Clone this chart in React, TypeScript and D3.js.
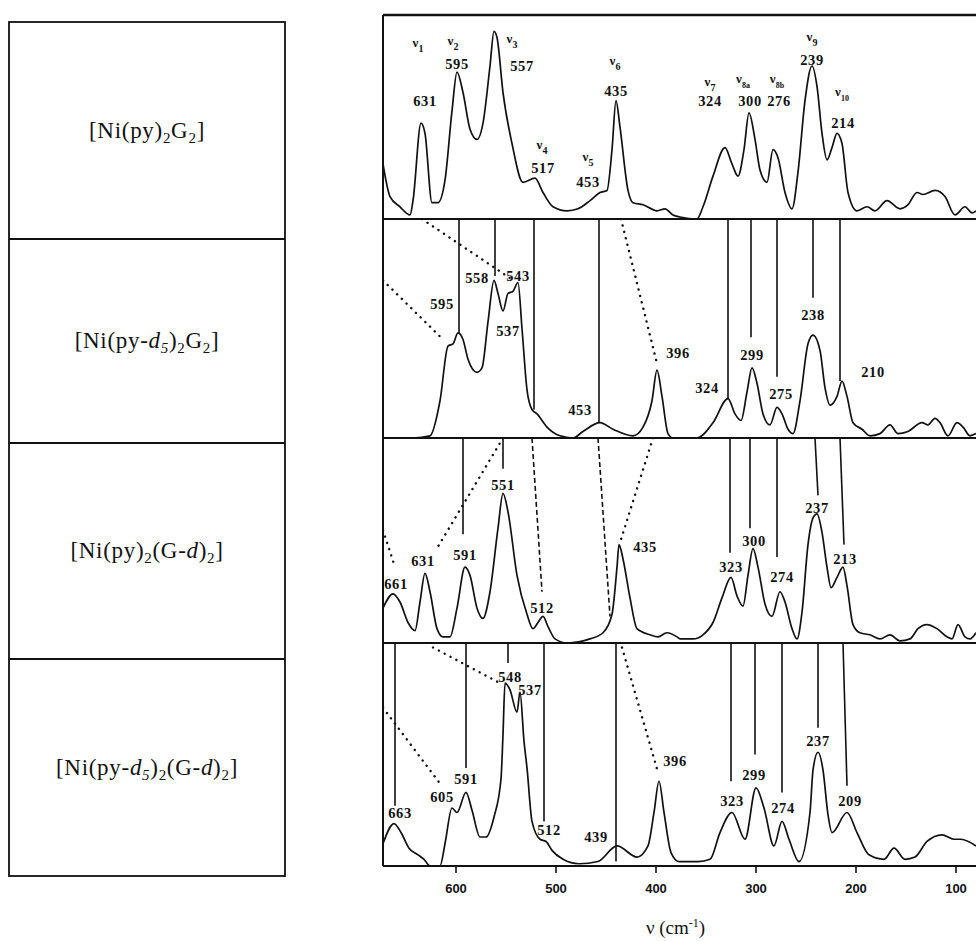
import React from "react";
import * as d3 from "d3";

const W = 976;
const H = 941;

// ---------- data ----------
type Part = { t: string; sub?: boolean; it?: boolean };
const compoundLabels: Part[][] = [
  [{ t: "[Ni(py)" }, { t: "2", sub: true }, { t: "G" }, { t: "2", sub: true }, { t: "]" }],
  [{ t: "[Ni(py-" }, { t: "d", it: true }, { t: "5", sub: true, it: true }, { t: ")" }, { t: "2", sub: true }, { t: "G" }, { t: "2", sub: true }, { t: "]" }],
  [{ t: "[Ni(py)" }, { t: "2", sub: true }, { t: "(G-" }, { t: "d", it: true }, { t: ")" }, { t: "2", sub: true }, { t: "]" }],
  [{ t: "[Ni(py-" }, { t: "d", it: true }, { t: "5", sub: true, it: true }, { t: ")" }, { t: "2", sub: true }, { t: "(G-" }, { t: "d", it: true }, { t: ")" }, { t: "2", sub: true }, { t: "]" }],
];

const xDomain = [673, 80];
const tickValues = [600, 500, 400, 300, 200, 100];

const spectrum1: [number, number][] = [[673,27],[666,11],[656,6],[646,2],[643,9],[635,47],[631,42],[624,8],[618,8],[611,19],[604,53],[599,72],[593,62],[586,44],[579,39],[573,47],[566,75],[562,92],[559,89],[553,62],[544,37],[533,18],[521,20],[513,13],[503,6],[489,4],[478,5],[466,9],[456,13],[449,14],[444,34],[440,58],[436,45],[428,14],[423,8],[413,7],[399,4],[391,5],[383,2],[376,1],[359,0],[353,6],[343,21],[331,35],[324,27],[318,21],[312,34],[307,52],[301,39],[296,24],[289,18],[283,34],[278,30],[271,13],[264,5],[258,23],[251,58],[244,75],[239,65],[234,42],[229,29],[224,35],[219,42],[214,37],[208,13],[199,4],[189,6],[181,4],[169,9],[156,5],[148,7],[139,13],[133,12],[121,14],[111,11],[101,2],[91,6],[84,3],[80,4]];
const spectrum2: [number, number][] = [[673,0],[643,0],[626,1],[616,17],[608,42],[603,43],[598,48],[593,45],[588,36],[579,30],[574,32],[568,53],[562,72],[558,66],[553,58],[548,66],[543,67],[538,71],[534,50],[529,22],[524,13],[519,11],[509,5],[496,1],[483,0],[473,3],[456,7],[443,4],[423,1],[413,5],[404,17],[399,31],[394,19],[388,2],[383,0],[359,0],[343,7],[328,18],[321,11],[315,8],[309,21],[304,32],[299,25],[293,11],[286,6],[279,14],[274,11],[268,4],[263,2],[256,17],[248,43],[243,47],[236,40],[231,23],[226,15],[219,19],[214,26],[209,19],[203,7],[194,4],[186,1],[176,2],[166,6],[158,2],[148,3],[134,7],[128,6],[121,9],[116,7],[108,1],[99,7],[93,5],[86,1],[80,2]];
const spectrum3: [number, number][] = [[673,17],[663,24],[656,20],[648,10],[641,6],[636,20],[631,34],[626,25],[619,7],[613,3],[606,3],[599,17],[591,37],[586,33],[579,17],[573,12],[566,25],[558,56],[553,73],[548,64],[539,33],[529,14],[523,7],[518,10],[513,13],[508,8],[501,2],[489,0],[466,2],[453,5],[444,14],[439,37],[437,48],[433,41],[426,22],[419,7],[406,4],[398,3],[389,5],[379,3],[376,2],[363,2],[353,4],[343,10],[334,22],[325,32],[319,23],[313,18],[308,33],[303,46],[298,37],[291,19],[284,13],[276,25],[271,20],[264,7],[259,2],[254,15],[248,48],[243,61],[239,63],[234,54],[229,37],[225,27],[219,32],[213,37],[209,28],[203,9],[196,5],[186,4],[176,2],[166,4],[156,1],[146,2],[138,7],[129,9],[119,7],[109,3],[104,2],[98,9],[91,3],[86,2],[80,5]];
const spectrum4: [number, number][] = [[673,10],[662,19],[655,15],[647,8],[638,5],[632,3],[626,0],[616,0],[611,10],[604,26],[599,24],[590,33],[584,25],[576,13],[570,13],[562,22],[555,39],[553,59],[551,82],[546,79],[539,69],[536,78],[532,56],[529,44],[524,20],[516,12],[510,11],[504,7],[493,3],[477,1],[458,2],[439,9],[419,4],[408,9],[402,24],[397,38],[392,24],[385,6],[377,2],[358,2],[346,3],[336,15],[324,24],[311,12],[300,35],[292,26],[282,9],[274,20],[267,12],[257,2],[246,24],[243,43],[238,51],[233,43],[228,23],[224,15],[209,24],[199,15],[187,5],[172,3],[162,8],[151,3],[141,4],[129,11],[114,14],[102,12],[95,12],[80,9]];

// peak labels: [text, wavenumber, intensity]
const peakLabels1: [string, number, number][] = [["631",631,58],["595",599,76],["557",534,75],["517",513,25],["453",468,18],["435",440,63],["324",346,58],["300",306,58],["276",277,58],["239",244,78],["214",213,47]];
const modeLabels1: [string, number, number][] = [["1",638,86],["2",603,87],["3",544,88],["4",514,36],["5",468,30],["6",441,77],["7",346,67],["8a",313,68],["8b",279,68],["9",244,89],["10",214,62]];
const peakLabels2: [string, number, number][] = [["558",579,73],["543",538,74],["595",614,61],["537",548,49],["453",476,13],["396",378,39],["324",349,23],["299",304,38],["275",275,20],["238",243,56],["210",183,30]];
const peakLabels3: [string, number, number][] = [["551",553,77],["631",633,40],["591",591,43],["661",660,29],["512",514,17],["435",411,47],["237",239,66],["300",302,50],["323",325,37],["274",274,32],["213",211,41]];
const peakLabels4: [string, number, number][] = [["548",546,85],["537",526,79],["591",590,39],["605",614,31],["663",656,24],["512",507,16],["439",460,13],["396",381,47],["323",324,29],["299",302,41],["274",273,26],["237",238,56],["209",206,29]];

// correlation lines from panel top: [v at top, v at end, end intensity]
const solidLines2: [number, number, number][] = [[597,597,48],[561,561,74],[522,522,13],[457,457,7],[328,328,18],[305,305,46],[279,279,28],[243,243,64],[216,216,26]];
const solidLines3: [number, number, number][] = [[593,593,53],[553,553,85],[326,326,44],[306,306,56],[279,279,42],[241,238,72],[216,212,48]];
const solidLines4: [number, number, number][] = [[661,661,27],[590,590,44],[548,548,91],[512,512,20],[440,440,2],[325,325,38],[301,301,50],[274,274,33],[238,238,62],[213,209,36]];
const dashedLines3: [number, number, number][] = [[524,514,25],[458,446,13]];
// dotted: [v1, I1, v2, I2]
const dotted2: [number, number, number, number][] = [[673,72,613,45],[634,100,546,73],[435,100,399,34]];
const dotted3: [number, number, number, number][] = [[553,100,618,47],[673,55,661,37],[403,100,436,49]];
const dotted4: [number, number, number, number][] = [[623,98,556,82],[673,71,616,37],[434,98,398,42]];

// ---------- layout ----------
const plotLeft = 383;
const plotRight = 976;
const panelEdges = [15, 219, 438, 643, 866];
const boxLeft = 9;
const boxRight = 285;
const boxEdges = [22, 239, 443, 659, 876];

const serif = "'Liberation Serif', 'Times New Roman', serif";
const sans = "'Liberation Sans', Arial, sans-serif";

const x = d3.scaleLinear().domain(xDomain).range([plotLeft, plotRight]);
const yScales = [0, 1, 2, 3].map((i) =>
  d3.scaleLinear().domain([0, 100]).range([panelEdges[i + 1], panelEdges[i]])
);

const panels = [
  { spec: spectrum1, labels: peakLabels1, solid: [] as [number, number, number][], dashed: [] as [number, number, number][], dotted: [] as [number, number, number, number][] },
  { spec: spectrum2, labels: peakLabels2, solid: solidLines2, dashed: [] as [number, number, number][], dotted: dotted2 },
  { spec: spectrum3, labels: peakLabels3, solid: solidLines3, dashed: dashedLines3, dotted: dotted3 },
  { spec: spectrum4, labels: peakLabels4, solid: solidLines4, dashed: [] as [number, number, number][], dotted: dotted4 },
];

function Compound({ parts, cx, cy }: { parts: Part[]; cx: number; cy: number }) {
  const fs = 23;
  const subFs = 15;
  let prevSub = false;
  return (
    <text x={cx} y={cy} textAnchor="middle" fontFamily={serif} fontSize={fs} letterSpacing={0.7} fill="#111">
      {parts.map((p, i) => {
        let dy = 0;
        if (p.sub && !prevSub) dy = 5;
        if (!p.sub && prevSub) dy = -5;
        prevSub = !!p.sub;
        return (
          <tspan key={i} dy={dy} fontSize={p.sub ? subFs : fs} fontStyle={p.it ? "italic" : "normal"}>
            {p.t}
          </tspan>
        );
      })}
    </text>
  );
}

export default function App() {
  const line = (ys: d3.ScaleLinear<number, number>) =>
    d3
      .line<[number, number]>()
      .x((d) => x(d[0]))
      .y((d) => ys(d[1]))
      .curve(d3.curveMonotoneX);

  return (
    <svg
      width={W}
      height={H}
      viewBox={`0 0 ${W} ${H}`}
      style={{ position: "absolute", left: 0, top: 0, background: "#fff" }}
    >
      <defs>
        {panels.map((_, i) => (
          <clipPath id={`clip${i}`} key={i}>
            <rect x={plotLeft} y={panelEdges[i] - 1} width={plotRight - plotLeft} height={panelEdges[i + 1] - panelEdges[i] + 2} />
          </clipPath>
        ))}
      </defs>
      <rect x={0} y={0} width={W} height={H} fill="#fff" />

      {/* left boxes */}
      <g stroke="#111" strokeWidth={1.8} fill="none">
        <rect x={boxLeft} y={boxEdges[0]} width={boxRight - boxLeft} height={boxEdges[4] - boxEdges[0]} />
        {boxEdges.slice(1, 4).map((e, i) => (
          <line key={i} x1={boxLeft} x2={boxRight} y1={e} y2={e} />
        ))}
      </g>
      {compoundLabels.map((parts, i) => (
        <Compound key={i} parts={parts} cx={(boxLeft + boxRight) / 2} cy={(boxEdges[i] + boxEdges[i + 1]) / 2 + 7} />
      ))}

      {/* spectra panels */}
      {panels.map((p, i) => {
        const ys = yScales[i];
        return (
          <g key={i}>
            <g clipPath={`url(#clip${i})`}>
              {p.solid.map((l, j) => (
                <line key={"s" + j} x1={x(l[0])} x2={x(l[1])} y1={ys(100)} y2={ys(l[2])} stroke="#111" strokeWidth={1.6} />
              ))}
              {p.dashed.map((l, j) => (
                <line key={"d" + j} x1={x(l[0])} x2={x(l[1])} y1={ys(100)} y2={ys(l[2])} stroke="#111" strokeWidth={1.6} strokeDasharray="5 3" />
              ))}
              {p.dotted.map((l, j) => (
                <line key={"o" + j} x1={x(l[0])} x2={x(l[2])} y1={ys(l[1])} y2={ys(l[3])} stroke="#111" strokeWidth={2.4} strokeDasharray="0.1 6.5" strokeLinecap="round" />
              ))}
              <path d={line(ys)(p.spec) || ""} fill="none" stroke="#111" strokeWidth={1.7} strokeLinejoin="round" />
            </g>
            {p.labels.map((l, j) => (
              <text key={"l" + j} x={x(l[1])} y={ys(l[2])} dy="0.35em" textAnchor="middle" fontFamily={serif} fontWeight="bold" fontSize={14.5} letterSpacing={0.6} fill="#111">
                {l[0]}
              </text>
            ))}
          </g>
        );
      })}

      {/* vibrational mode labels in top panel */}
      {modeLabels1.map((m, j) => (
        <text key={"m" + j} x={x(m[1])} y={yScales[0](m[2])} dy="0.2em" textAnchor="middle" fontFamily={serif} fontWeight="bold" fill="#111">
          <tspan fontSize={13}>ν</tspan>
          <tspan fontSize={m[0].length > 1 ? 8 : 10} dy={5}>{m[0]}</tspan>
        </text>
      ))}

      {/* frame */}
      <g stroke="#111" fill="none">
        <line x1={plotLeft} x2={plotRight} y1={panelEdges[0]} y2={panelEdges[0]} strokeWidth={2.4} />
        <line x1={plotLeft} x2={plotLeft} y1={panelEdges[0]} y2={panelEdges[4]} strokeWidth={2} />
        {panelEdges.slice(1).map((e, i) => (
          <line key={i} x1={plotLeft} x2={plotRight} y1={e} y2={e} strokeWidth={2} />
        ))}
      </g>

      {/* x axis */}
      {tickValues.map((t) => (
        <g key={t} transform={`translate(${x(t)},${panelEdges[4]})`}>
          <line y1={0} y2={7} stroke="#111" strokeWidth={1.6} />
          <text y={27} textAnchor="middle" fontFamily={sans} fontWeight="bold" fontSize={13} fill="#111">
            {t}
          </text>
        </g>
      ))}
      <text x={(plotLeft + plotRight) / 2 - 4} y={934} textAnchor="middle" fontFamily={serif} fontSize={19} fill="#111">
        ν (cm<tspan fontSize={12} dy={-7}>-1</tspan><tspan dy={7}>)</tspan>
      </text>
    </svg>
  );
}
